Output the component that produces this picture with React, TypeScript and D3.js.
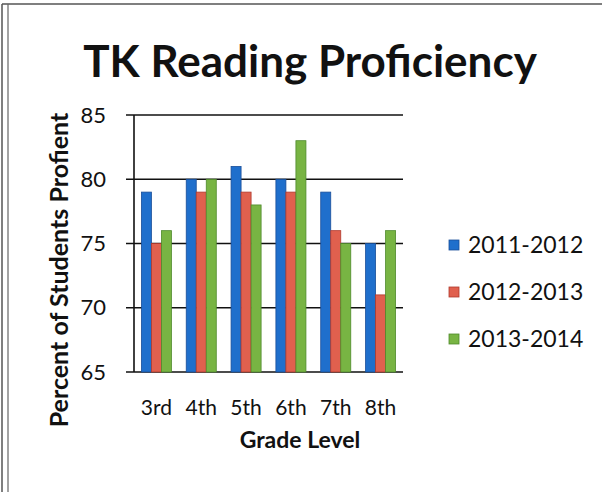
import React from "react";
import * as d3 from "d3";

const grades = ["3rd", "4th", "5th", "6th", "7th", "8th"];
const seriesNames = ["2011-2012", "2012-2013", "2013-2014"];
const s2011 = [79, 80, 81, 80, 79, 75];
const s2012 = [75, 79, 79, 79, 76, 71];
const s2013 = [76, 80, 78, 83, 75, 76];
const yTicks = [65, 70, 75, 80, 85];
const colors = ["#1f6fcc", "#e0604e", "#78b443"];
const strokes = ["#1a4f9a", "#b03a2e", "#4f8a2c"];

const W = 602, H = 492;
const plotL = 134, plotR = 403, plotT = 115, plotB = 372;
const FONT = "Lato, 'Open Sans', sans-serif";

export default function App() {
  const values = [s2011, s2012, s2013];
  const x0 = d3.scaleBand<string>().domain(grades).range([plotL, plotR]).padding(0);
  const bw = x0.bandwidth();
  const x1 = d3.scaleBand<string>().domain(seriesNames).range([bw * 0.165, bw * 0.835]).padding(0);
  const y = d3.scaleLinear().domain([65, 85]).range([plotB, plotT]);

  return (
    <svg width={W} height={H} style={{ position: "absolute", left: 0, top: 0, background: "#fff" }} fontFamily={FONT}>
      {/* frame */}
      <line x1={2} y1={4} x2={602} y2={4} stroke="#555" strokeWidth={1.5} />
      <line x1={2} y1={4} x2={2} y2={492} stroke="#555" strokeWidth={1.5} />
      <line x1={8} y1={4} x2={8} y2={492} stroke="#666" strokeWidth={1.2} />

      <text x={310} y={77} textAnchor="middle" fontSize={44} fontWeight={700} fill="#111">
        TK Reading Proficiency
      </text>

      {/* gridlines & ticks */}
      {yTicks.map((t) => (
        <g key={t}>
          <line x1={plotL - 8} x2={plotR} y1={y(t)} y2={y(t)} stroke="#111" strokeWidth={1.4} />
          <text x={106} y={y(t)} dy="0.35em" textAnchor="end" fontSize={22} fill="#111">
            {t}
          </text>
        </g>
      ))}
      <line x1={plotL} x2={plotL} y1={plotT} y2={plotB} stroke="#111" strokeWidth={1.6} />

      {/* bars */}
      {grades.map((g, gi) => (
        <g key={g} transform={`translate(${x0(g)},0)`}>
          {seriesNames.map((s, si) => {
            const v = values[si][gi];
            return (
              <rect
                key={s}
                x={x1(s)}
                y={y(v)}
                width={x1.bandwidth()}
                height={plotB - y(v)}
                fill={colors[si]}
                stroke={strokes[si]}
                strokeWidth={0.8}
              />
            );
          })}
        </g>
      ))}

      {/* x labels */}
      {grades.map((g) => (
        <text key={g} x={(x0(g) as number) + bw / 2} y={415} textAnchor="middle" fontSize={21} fill="#111">
          {g}
        </text>
      ))}
      <text x={300} y={448} textAnchor="middle" fontSize={23} fontWeight={700} fill="#111">
        Grade Level
      </text>
      <text
        transform={`translate(68,270) rotate(-90)`}
        textAnchor="middle"
        fontSize={25}
        fontWeight={700}
        fill="#111"
      >
        Percent of Students Profient
      </text>

      {/* legend */}
      {seriesNames.map((s, i) => (
        <g key={s} transform={`translate(449,${245 + i * 47})`}>
          <rect x={0} y={-5} width={10} height={10} fill={colors[i]} stroke={strokes[i]} strokeWidth={0.8} />
          <text x={19} y={0} dy="0.35em" fontSize={23} fill="#111">
            {s}
          </text>
        </g>
      ))}
    </svg>
  );
}
